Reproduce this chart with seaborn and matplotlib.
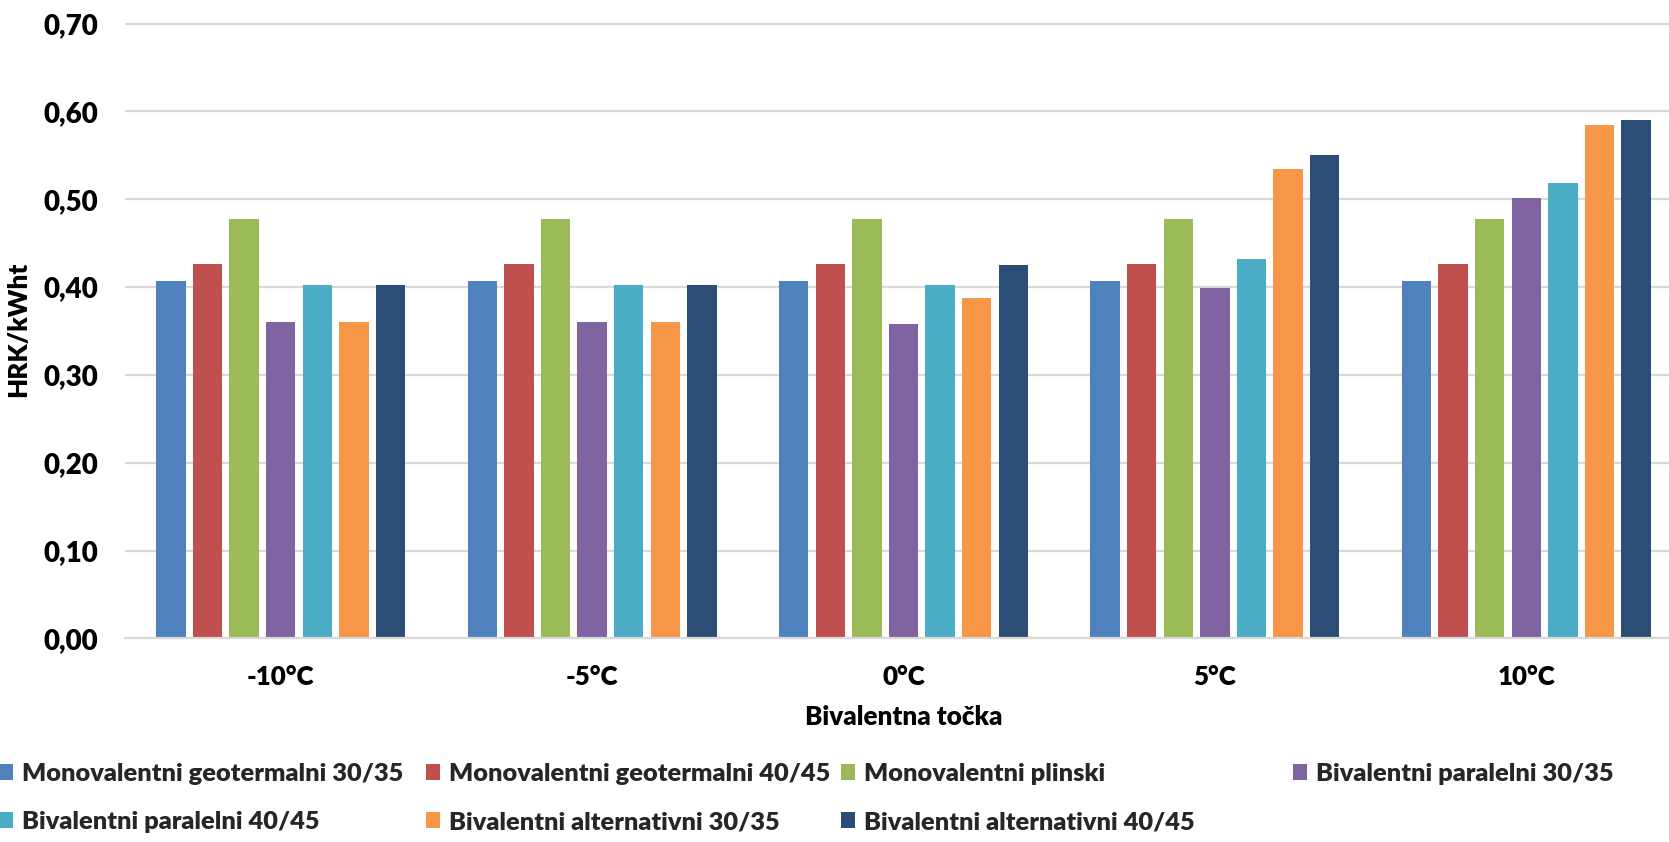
import matplotlib
matplotlib.use("Agg")
import matplotlib.pyplot as plt
from matplotlib.patches import Patch
import seaborn as sns
import pandas as pd

# Bivalent point categories (x axis)
categories = ["-10°C", "-5°C", "0°C", "5°C", "10°C"]

# Heating systems (series)
series_names = [
    "Monovalentni geotermalni 30/35",
    "Monovalentni geotermalni 40/45",
    "Monovalentni plinski",
    "Bivalentni paralelni 30/35",
    "Bivalentni paralelni 40/45",
    "Bivalentni alternativni 30/35",
    "Bivalentni alternativni 40/45",
]

# Cost per kWh of heat for each system [HRK/kWht]
mono_geo_30_35 = [0.407, 0.407, 0.407, 0.407, 0.407]
mono_geo_40_45 = [0.426, 0.426, 0.426, 0.426, 0.426]
mono_plinski = [0.478, 0.478, 0.478, 0.478, 0.478]
biv_par_30_35 = [0.360, 0.360, 0.358, 0.399, 0.501]
biv_par_40_45 = [0.402, 0.402, 0.402, 0.432, 0.518]
biv_alt_30_35 = [0.360, 0.360, 0.388, 0.534, 0.585]
biv_alt_40_45 = [0.402, 0.402, 0.425, 0.550, 0.590]

series_values = [mono_geo_30_35, mono_geo_40_45, mono_plinski,
                 biv_par_30_35, biv_par_40_45, biv_alt_30_35, biv_alt_40_45]

colors = ["#4F81BD", "#C0504D", "#9BBB59", "#8064A2",
          "#4BACC6", "#F79646", "#2C4D75"]

y_ticks = [0.0, 0.1, 0.2, 0.3, 0.4, 0.5, 0.6, 0.7]

rows = []
for name, vals in zip(series_names, series_values):
    for cat, v in zip(categories, vals):
        rows.append({"Bivalentna točka": cat, "HRK/kWht": v, "Sustav": name})
df = pd.DataFrame(rows)

sns.set_theme(style="white")
plt.rcParams["font.family"] = ["Lato", "DejaVu Sans"]

WEIGHT = "heavy"
FS = 18.7
FS_LEG = 18.3
FS_TICK = 20

W, H = 1669, 842
fig = plt.figure(figsize=(W / 100, H / 100), dpi=100)

y_top = 0.703
px_bottom, px_top07 = 638.4, 23.5
ax_h_px = (px_bottom - px_top07) * y_top / 0.70
ax = fig.add_axes([125 / W, (H - px_bottom) / H, 1557 / W, ax_h_px / H])

sns.barplot(data=df, x="Bivalentna točka", y="HRK/kWht", hue="Sustav",
            hue_order=series_names, order=categories, palette=colors,
            width=0.823, saturation=1, errorbar=None, legend=False, ax=ax)

# leave a small white gap between neighbouring bars
for p in ax.patches:
    w = p.get_width()
    p.set_x(p.get_x() + w * 0.1)
    p.set_width(w * 0.8)
    p.set_linewidth(0)

ax.set_xlim(-0.5, len(categories) - 0.5)
ax.set_ylim(0, y_top)
ax.set_yticks(y_ticks)
ax.set_yticklabels([f"{t:.2f}".replace(".", ",") for t in y_ticks])
ax.yaxis.grid(True, color="#D9D9D9", linewidth=1.6)
ax.set_axisbelow(True)
for side in ["left", "right", "top"]:
    ax.spines[side].set_visible(False)
ax.spines["bottom"].set_color("#D9D9D9")
ax.spines["bottom"].set_linewidth(1.6)

ax.tick_params(axis="both", length=0, labelcolor="black")
ax.tick_params(axis="y", pad=19, labelsize=FS_TICK)
ax.tick_params(axis="x", pad=19, labelsize=FS)
for lbl in ax.get_xticklabels() + ax.get_yticklabels():
    lbl.set_fontweight(WEIGHT)

ax.set_xlabel("Bivalentna točka", fontsize=FS, fontweight=WEIGHT, labelpad=12, color="black")
ax.set_ylabel("HRK/kWht", fontsize=FS, fontweight=WEIGHT, labelpad=10, color="black")

# legend laid out in four columns below the plot
handles = [Patch(facecolor=c, edgecolor="none") for c in colors]
col_members = [[0, 4], [1, 5], [2, 6], [3]]
col_x = [-1, 426, 841, 1293]
for members, x in zip(col_members, col_x):
    fig.legend([handles[i] for i in members], [series_names[i] for i in members],
               loc="upper left", bbox_to_anchor=(x / W, (H - 763) / H),
               frameon=False, prop={"weight": WEIGHT, "size": FS_LEG},
               handlelength=0.56, handleheight=0.56, handletextpad=0.36,
               labelspacing=1.03, borderpad=0, borderaxespad=0)

fig.savefig("out.png", dpi=100)
